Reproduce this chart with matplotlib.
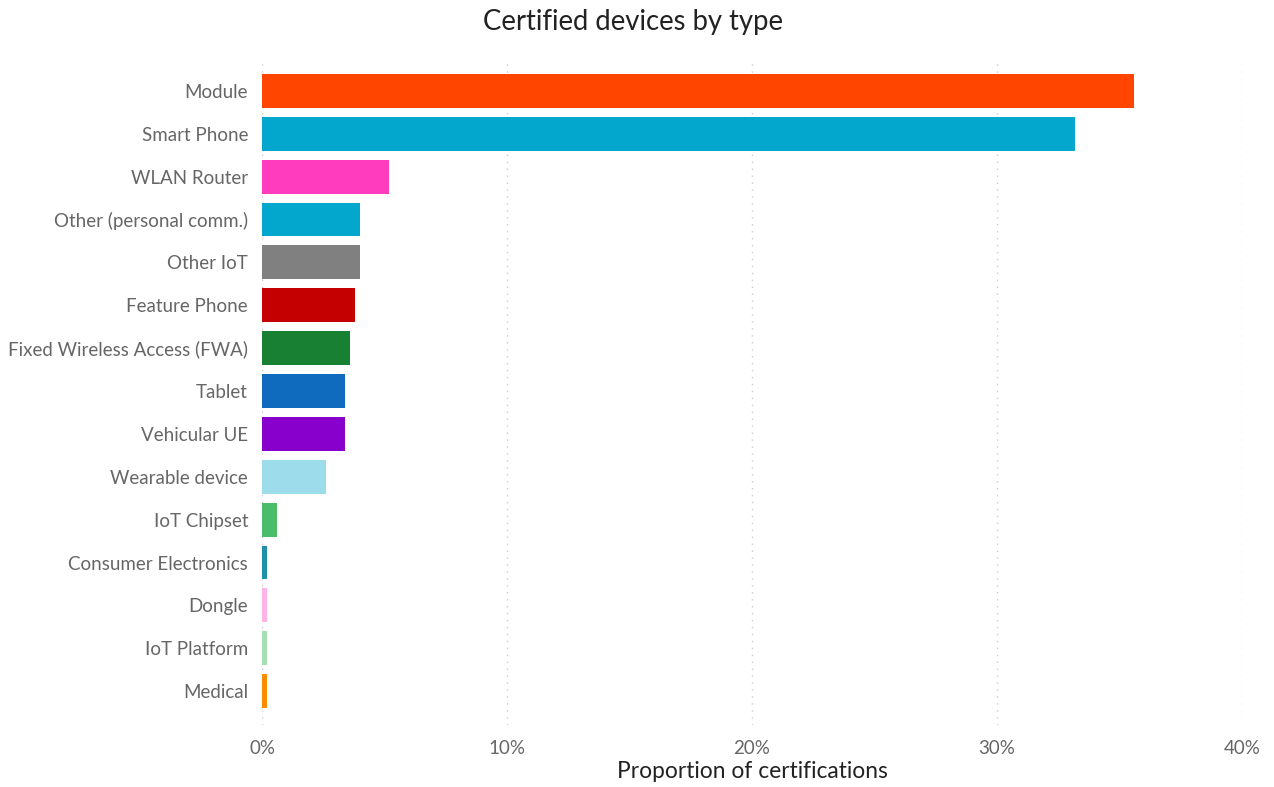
import matplotlib.pyplot as plt
from matplotlib.ticker import FuncFormatter

# device categories and their share of certifications (%)
categories = ["Module", "Smart Phone", "WLAN Router", "Other (personal comm.)",
              "Other IoT", "Feature Phone", "Fixed Wireless Access (FWA)", "Tablet",
              "Vehicular UE", "Wearable device", "IoT Chipset", "Consumer Electronics",
              "Dongle", "IoT Platform", "Medical"]
shares = [35.6, 33.2, 5.2, 4.0, 4.0, 3.8, 3.6, 3.4, 3.4, 2.6, 0.6, 0.2, 0.2, 0.2, 0.2]
colors = ["#FF4500", "#03A6CC", "#FF3BBE", "#03A6CC", "#808080", "#C40000",
          "#188032", "#0E6BBE", "#8800CC", "#9CDCEB", "#49BD6A", "#1E90A8",
          "#FFB3E6", "#A3DEB5", "#FF8C00"]
xticks = [0, 10, 20, 30, 40]

plt.rcParams['font.family'] = ['Lato', 'DejaVu Sans']

fig = plt.figure(figsize=(12.74, 7.87), dpi=100)
ax = fig.add_axes([262/1274, 1 - 725/787, 980/1274, 665/787])

ypos = list(range(len(categories)))
ax.barh(ypos, shares, height=0.79, color=colors, zorder=2)

ax.set_xlim(0, 40)
ax.set_ylim(14.79, -0.72)
ax.set_yticks(ypos)
ax.set_yticklabels(categories)
ax.set_xticks(xticks)
ax.xaxis.set_major_formatter(FuncFormatter(lambda v, p: f"{v:.0f}%"))
ax.tick_params(axis='both', length=0, labelsize=13.5, labelcolor="#666666")
ax.tick_params(axis='y', pad=10)
ax.tick_params(axis='x', pad=11)

# dotted vertical gridlines
ax.grid(axis='x', linestyle=(0, (1, 4)), color="#cccccc", linewidth=1, zorder=0)
for s in ax.spines.values():
    s.set_visible(False)

ax.set_xlabel("Proportion of certifications", fontsize=16.4, color="#222222", labelpad=3)
fig.text(633/1274, 1 - 22/787, "Certified devices by type", fontsize=19.8,
         color="#222222", ha='center', va='center')

fig.savefig("out.png", dpi=100, facecolor="white")
